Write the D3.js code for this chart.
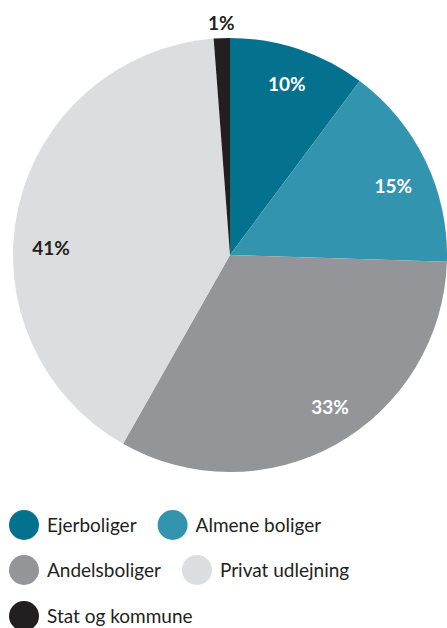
<!DOCTYPE html>
<html><head><meta charset="utf-8">
<script src="https://cdn.jsdelivr.net/npm/d3@7"></script>
<style>html,body{margin:0;padding:0;background:#fff;}svg{display:block;}</style>
</head><body>
<script>
const categories = ["Ejerboliger", "Almene boliger", "Andelsboliger", "Privat udlejning", "Stat og kommune"];
const values = [10.2, 15.3, 32.7, 40.6, 1.2];
const labels = ["10%", "15%", "33%", "41%", "1%"];
const colors = ["#04718f", "#3394b0", "#949598", "#dcdddf", "#231f20"];

const W = 447, H = 628;
const cx = 230, cy = 255, R = 217;
const labelColors = ["#fff", "#fff", "#fff", "#231f20", "#231f20"];
const labelRadius = [180, 177, 182, 179, 232];
const labelNudgeDeg = [0, 3, -4, -10.5, 0];

const svg = d3.select("body").append("svg").attr("width", W).attr("height", H);
const g = svg.append("g").attr("transform", `translate(${cx},${cy})`);

const pie = d3.pie().sort(null).value(d => d);
const arcs = pie(values);
const arc = d3.arc().innerRadius(0).outerRadius(R);

g.selectAll("path").data(arcs).join("path")
  .attr("d", arc).attr("fill", (d, i) => colors[i]);

g.selectAll("text.lbl").data(arcs).join("text").attr("class", "lbl")
  .attr("x", (d, i) => { const a = (d.startAngle + d.endAngle) / 2 + labelNudgeDeg[i] * Math.PI / 180; return Math.sin(a) * labelRadius[i]; })
  .attr("y", (d, i) => { const a = (d.startAngle + d.endAngle) / 2 + labelNudgeDeg[i] * Math.PI / 180; return -Math.cos(a) * labelRadius[i]; })
  .attr("dy", "0.36em")
  .attr("text-anchor", "middle")
  .attr("font-family", "Lato, sans-serif").attr("font-weight", 700).attr("font-size", 19)
  .attr("fill", (d, i) => labelColors[i])
  .text((d, i) => labels[i]);

// legend
const lg = svg.append("g");
const rowY = [525, 570, 616];
const perRow = [2, 2, 1];
let idx = 0;
rowY.forEach((y, r) => {
  let x = 9;
  for (let k = 0; k < perRow[r]; k++, idx++) {
    lg.append("circle").attr("cx", x + 15).attr("cy", y).attr("r", 15).attr("fill", colors[idx]);
    const t = lg.append("text").attr("x", x + 38).attr("y", y).attr("dy", "0.36em")
      .attr("font-family", "Lato, sans-serif").attr("font-size", 19).attr("fill", "#231f20")
      .text(categories[idx]);
    const w = t.node().getComputedTextLength();
    x = x + 38 + w + 21;
  }
});
</script>
</body></html>
